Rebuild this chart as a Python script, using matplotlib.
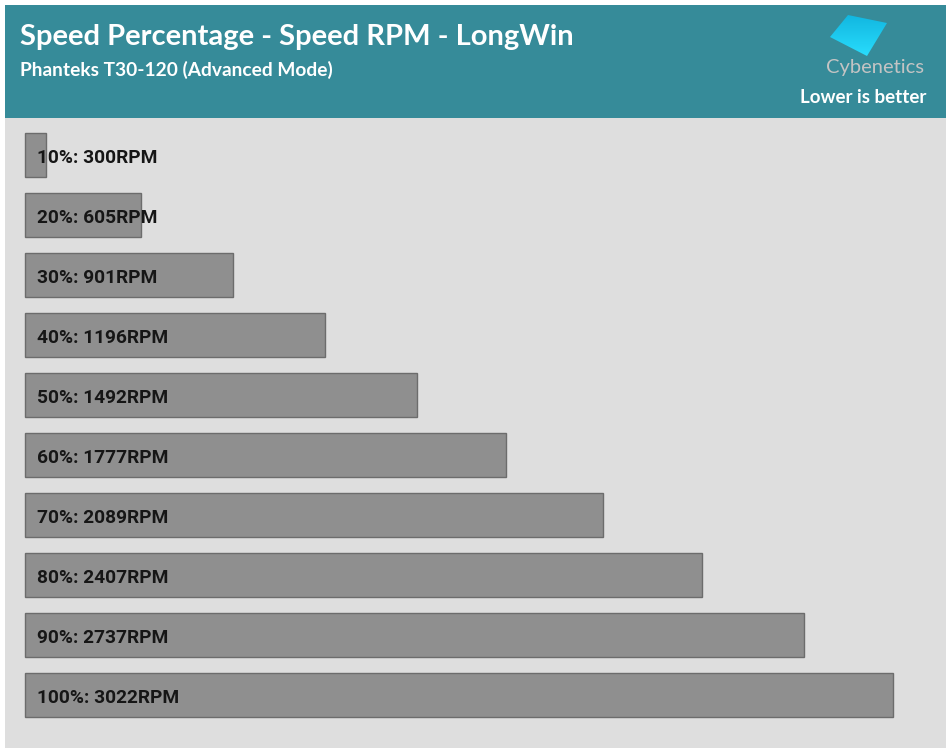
import matplotlib
matplotlib.use("Agg")
import matplotlib.pyplot as plt
import numpy as np
from matplotlib.patches import Rectangle, Polygon

# dane
procenty = ["10%", "20%", "30%", "40%", "50%", "60%", "70%", "80%", "90%", "100%"]
rpm = [300, 605, 901, 1196, 1492, 1777, 2089, 2407, 2737, 3022]

tytul = "Speed Percentage - Speed RPM - LongWin"
podtytul = "Phanteks T30-120 (Advanced Mode)"
uwaga = "Lower is better"

W, H = 951, 753
X_MIN = 232.5          # poczatek osi (lewa krawedz slupkow)
X_LIM = (168.2, 3192)

NAGLOWEK = "#368b99"
TLO = "#dedede"
SLUPEK = "#8f8f8f"
KRAWEDZ = "#6c6c6c"


def px(x, y):
    # piksele (od gory) -> wspolrzedne figury
    return x / W, 1 - y / H


fig = plt.figure(figsize=(W / 100, H / 100), dpi=100)
fig.patch.set_facecolor("white")

# naglowek
fig.patches.append(Rectangle(px(5, 118), 941 / W, 113 / H, transform=fig.transFigure,
                             facecolor=NAGLOWEK, edgecolor="none", zorder=0))

# wykres
l, b = px(5, 748)
ax = fig.add_axes([l, b, 941 / W, 630 / H])
ax.set_facecolor(TLO)
y = np.arange(len(rpm))
szer = [v - X_MIN for v in rpm]
ax.barh(y, szer, left=X_MIN, height=0.733, color=SLUPEK, edgecolor=KRAWEDZ, linewidth=1)
for i, (p, v) in enumerate(zip(procenty, rpm)):
    ax.annotate(f"{p}: {v}RPM", xy=(X_MIN, i), xytext=(12, -2.5), textcoords="offset pixels",
                ha="left", va="center", fontsize=13.8, fontweight="bold",
                family="Roboto", color="#161616")
ax.set_xlim(*X_LIM)
ax.set_ylim(9.883, -0.617)
ax.set_xticks([])
ax.set_yticks([])
for s in ax.spines.values():
    s.set_visible(False)

# teksty naglowka
fig.text(*px(20, 45), tytul, fontsize=21, fontweight="bold", family="Lato",
         color="white", ha="left", va="baseline")
fig.text(*px(20, 76), podtytul, fontsize=13.8, fontweight="bold", family="Lato",
         color="white", ha="left", va="baseline")
fig.text(*px(926, 103), uwaga, fontsize=13.5, fontweight="bold", family="Lato",
         color="white", ha="right", va="baseline")

# logo (wspolrzedne w pikselach)
lx, ly = px(826, 60)
ax_logo = fig.add_axes([lx, ly, 66 / W, 50 / H], zorder=5)
ax_logo.set_xlim(826, 892)
ax_logo.set_ylim(60, 10)
ax_logo.axis("off")
grad = np.linspace(0, 1, 100).reshape(-1, 1)
cmap = matplotlib.colors.LinearSegmentedColormap.from_list("logo", ["#0fb2dd", "#2be0ff"])
im = ax_logo.imshow(grad, aspect="auto", cmap=cmap, extent=[826, 892, 60, 10])
poly = Polygon([(848, 15), (887, 23), (867, 56), (830, 37)], closed=True,
               facecolor="none", edgecolor="none")
ax_logo.add_patch(poly)
im.set_clip_path(poly)
fig.text(*px(826, 73), "Cybenetics", fontsize=14.5, family="Lato",
         color="#c4c4c4", ha="left", va="baseline", zorder=6)

plt.savefig("out.png", dpi=100)
